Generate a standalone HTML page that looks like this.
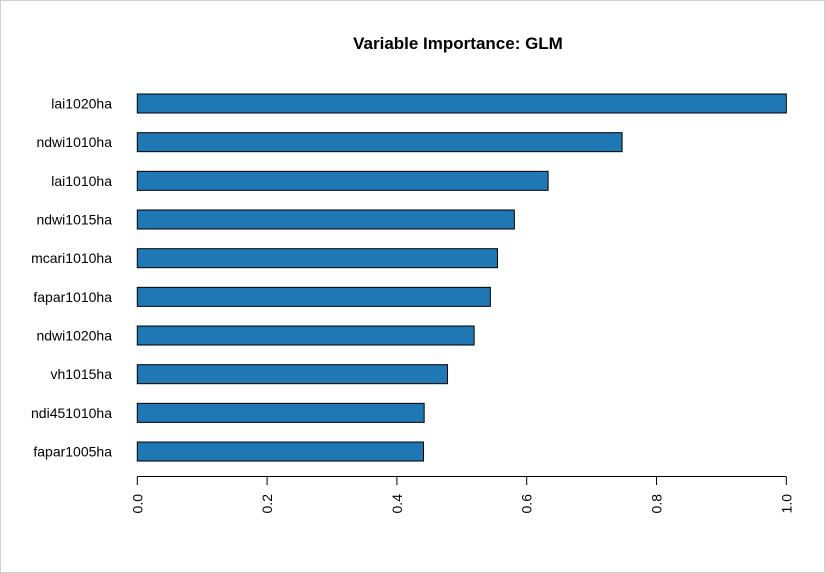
<!DOCTYPE html>
<html><head><meta charset="utf-8"><style>
html,body{margin:0;padding:0;background:#fff}
svg{display:block}
text{font-family:"Liberation Sans",Arial,sans-serif}
</style></head><body>
<svg id="chart" width="825" height="573">
<rect x="0.5" y="0.5" width="824" height="572" fill="#fff" stroke="#d0d0d0"/>
<text x="458" y="49" text-anchor="middle" font-size="17" font-weight="bold">Variable Importance: GLM</text>
<g id="bars"></g>
<g id="axis"></g>
</svg>
<script>
const categories = ["lai1020ha","ndwi1010ha","lai1010ha","ndwi1015ha","mcari1010ha","fapar1010ha","ndwi1020ha","vh1015ha","ndi451010ha","fapar1005ha"];
const values = [1.0,0.747,0.633,0.581,0.555,0.544,0.519,0.478,0.442,0.441];
const tickValues = [0,0.2,0.4,0.6,0.8,1.0];
const tickLabels = ["0.0","0.2","0.4","0.6","0.8","1.0"];
const NS="http://www.w3.org/2000/svg";
const x0=137.3, xScale=649;
const xPos=v=>x0+v*xScale;
const yCenter=i=>103.5+i*38.67;
const barH=19;
const bars=document.getElementById('bars');
categories.forEach((c,i)=>{
  const r=document.createElementNS(NS,'rect');
  r.setAttribute('x',xPos(0));
  r.setAttribute('y',yCenter(i)-barH/2);
  r.setAttribute('width',xPos(values[i])-xPos(0));
  r.setAttribute('height',barH);
  r.setAttribute('fill','#1f77b4');
  r.setAttribute('stroke','#000');
  r.setAttribute('stroke-width','1');
  
  
  bars.appendChild(r);
  const t=document.createElementNS(NS,'text');
  t.setAttribute('x',112);
  t.setAttribute('y',yCenter(i)+5);
  t.setAttribute('text-anchor','end');
  t.setAttribute('font-size','14');
  t.textContent=c;
  
  
  bars.appendChild(t);
});
const axis=document.getElementById('axis');
const ln=document.createElementNS(NS,'line');
ln.setAttribute('x1',xPos(tickValues[0]));ln.setAttribute('x2',xPos(tickValues[tickValues.length-1]));
ln.setAttribute('y1',476.5);ln.setAttribute('y2',476.5);ln.setAttribute('stroke','#000');


axis.appendChild(ln);
tickValues.forEach((v,i)=>{
  const tk=document.createElementNS(NS,'line');
  tk.setAttribute('x1',xPos(v));tk.setAttribute('x2',xPos(v));
  tk.setAttribute('y1',476.5);tk.setAttribute('y2',485);tk.setAttribute('stroke','#000');
  
  
  axis.appendChild(tk);
  const t=document.createElementNS(NS,'text');
  const x=xPos(v)+5, y=494;
  t.setAttribute('x',x);t.setAttribute('y',y);
  t.setAttribute('text-anchor','end');
  t.setAttribute('font-size','14');
  t.setAttribute('transform','rotate(-90 '+x+' '+y+')');
  t.textContent=tickLabels[i];
  
  
  axis.appendChild(t);
});
</script>
</body></html>
